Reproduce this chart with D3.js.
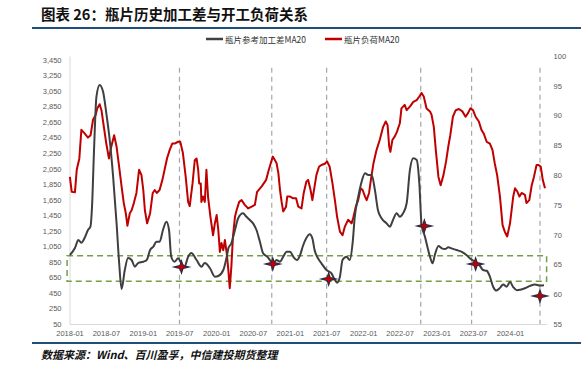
<!DOCTYPE html>
<html><head><meta charset="utf-8">
<script src="https://cdn.jsdelivr.net/npm/d3@7"></script>
<style>
body{margin:0;background:#fff;}
svg{display:block;}
</style></head>
<body>
<svg id="c" width="587" height="369"></svg>
<script>
// ---------- data ----------
const titleText = "图表 26：瓶片历史加工差与开工负荷关系";
const sourceText = "数据来源：Wind、百川盈孚，中信建投期货整理";
const seriesNames = ["瓶片参考加工差MA20", "瓶片负荷MA20"];

const marginDates = ["2018-01-03","2018-01-28","2018-02-14","2018-03-01","2018-03-17","2018-04-03","2018-04-15","2018-04-23","2018-05-03","2018-05-15","2018-05-31","2018-06-17","2018-07-03","2018-07-20","2018-08-06","2018-08-23","2018-09-05","2018-09-17","2018-10-03","2018-10-19","2018-11-06","2018-11-22","2018-12-08","2019-01-03","2019-01-20","2019-02-06","2019-02-22","2019-03-09","2019-03-25","2019-04-11","2019-04-28","2019-05-11","2019-05-22","2019-06-08","2019-06-25","2019-07-11","2019-07-27","2019-08-14","2019-08-30","2019-09-25","2019-10-19","2019-11-05","2019-11-30","2019-12-25","2020-01-11","2020-02-05","2020-02-22","2020-03-01","2020-03-16","2020-04-03","2020-04-19","2020-05-13","2020-05-30","2020-06-16","2020-07-02","2020-07-19","2020-08-05","2020-08-21","2020-09-11","2020-10-10","2020-10-27","2020-11-13","2020-11-29","2020-12-16","2021-01-02","2021-01-18","2021-02-05","2021-02-21","2021-03-07","2021-03-24","2021-04-10","2021-04-23","2021-05-04","2021-05-21","2021-06-07","2021-07-02","2021-07-27","2021-08-13","2021-08-24","2021-09-07","2021-09-20","2021-10-10","2021-10-26","2021-11-09","2021-11-20","2021-12-07","2021-12-24","2022-01-10","2022-01-26","2022-02-12","2022-02-28","2022-03-15","2022-04-02","2022-04-27","2022-05-13","2022-05-29","2022-06-16","2022-07-02","2022-07-18","2022-08-05","2022-08-21","2022-09-07","2022-09-24","2022-10-07","2022-10-18","2022-11-04","2022-11-20","2022-11-29","2022-12-12","2022-12-23","2023-01-10","2023-01-27","2023-02-12","2023-02-28","2023-03-15","2023-04-10","2023-05-04","2023-05-29","2023-06-15","2023-07-10","2023-08-04","2023-08-20","2023-09-07","2023-09-23","2023-10-09","2023-10-26","2023-11-12","2023-11-28","2023-12-15","2024-01-01","2024-01-17","2024-02-04","2024-02-20","2024-03-15","2024-04-09","2024-05-04","2024-05-29","2024-06-18"];
const marginValues = [938,1028,1131,1097,1157,1260,1303,1560,2290,2976,3127,3040,2766,2419,1946,1350,835,500,745,900,874,788,835,852,874,1003,1045,1109,1109,1260,1367,1260,916,852,896,835,788,916,964,874,788,835,771,659,668,745,916,1024,1089,1260,1411,1475,1431,1389,1346,1260,1109,960,916,831,874,852,916,981,981,916,874,938,1054,1157,1205,1153,1003,896,831,745,703,616,582,659,874,916,874,1089,1431,1689,1882,1990,1968,1968,1775,1518,1411,1346,1303,1389,1475,1431,1475,1604,2032,2183,2161,1861,1330,1174,1003,916,831,938,1054,1024,1015,1037,1024,1003,981,938,896,852,800,745,735,660,530,480,515,560,530,590,525,485,490,510,540,560,545,550];

const loadDates = ["2018-01-03","2018-01-12","2018-01-28","2018-02-06","2018-02-19","2018-03-01","2018-03-17","2018-04-03","2018-04-16","2018-04-28","2018-05-11","2018-05-19","2018-05-31","2018-06-09","2018-06-17","2018-07-03","2018-07-16","2018-07-28","2018-08-11","2018-08-23","2018-09-05","2018-09-17","2018-09-28","2018-10-08","2018-10-16","2018-10-28","2018-11-06","2018-11-17","2018-11-30","2018-12-13","2018-12-25","2019-01-03","2019-01-11","2019-01-22","2019-02-06","2019-02-19","2019-03-01","2019-03-11","2019-03-25","2019-04-08","2019-04-19","2019-05-01","2019-05-14","2019-05-27","2019-06-08","2019-06-25","2019-07-06","2019-07-19","2019-08-02","2019-08-14","2019-08-22","2019-09-05","2019-09-16","2019-09-25","2019-10-03","2019-10-08","2019-10-16","2019-10-19","2019-10-27","2019-11-05","2019-11-13","2019-11-21","2019-12-03","2019-12-16","2019-12-25","2020-01-03","2020-01-11","2020-01-19","2020-01-27","2020-02-05","2020-02-13","2020-02-22","2020-03-01","2020-03-08","2020-03-16","2020-03-24","2020-04-03","2020-04-11","2020-04-24","2020-05-06","2020-05-22","2020-06-08","2020-06-25","2020-07-11","2020-07-22","2020-08-14","2020-09-05","2020-09-16","2020-09-28","2020-10-08","2020-10-19","2020-10-27","2020-11-05","2020-11-13","2020-11-21","2020-11-29","2020-12-13","2020-12-19","2021-01-02","2021-01-18","2021-02-01","2021-02-12","2021-02-28","2021-03-11","2021-03-24","2021-04-02","2021-04-14","2021-04-23","2021-05-04","2021-05-13","2021-05-26","2021-06-07","2021-06-24","2021-07-05","2021-07-18","2021-08-01","2021-08-13","2021-08-24","2021-09-07","2021-09-20","2021-10-01","2021-10-18","2021-11-04","2021-11-12","2021-11-25","2021-12-07","2021-12-19","2021-12-29","2022-01-10","2022-01-18","2022-01-30","2022-02-08","2022-02-21","2022-03-08","2022-03-24","2022-04-10","2022-04-23","2022-05-02","2022-05-10","2022-05-16","2022-05-26","2022-06-07","2022-06-18","2022-07-02","2022-07-10","2022-07-26","2022-08-05","2022-08-21","2022-09-07","2022-09-24","2022-10-07","2022-10-18","2022-10-29","2022-11-12","2022-11-29","2022-12-07","2022-12-18","2022-12-28","2023-01-10","2023-01-21","2023-02-04","2023-02-17","2023-02-28","2023-03-10","2023-03-23","2023-04-06","2023-04-22","2023-05-09","2023-05-25","2023-06-06","2023-06-18","2023-07-01","2023-07-14","2023-07-30","2023-08-12","2023-08-23","2023-09-07","2023-09-23","2023-10-06","2023-10-17","2023-10-29","2023-11-12","2023-11-25","2023-12-06","2023-12-18","2024-01-01","2024-01-17","2024-01-26","2024-02-07","2024-02-17","2024-02-28","2024-03-15","2024-03-23","2024-04-06","2024-04-18","2024-04-29","2024-05-12","2024-05-22","2024-06-02","2024-06-12","2024-06-23"];
const loadValues = [79.7,77.2,77.1,80.9,82.8,87.6,87.0,86.3,86.7,89.3,90.1,91.2,91.9,90.9,89.0,85.3,82.8,84.8,86.7,84.8,81.4,78.1,75.3,73.6,71.5,73.6,74.1,75.3,77.0,80.9,80.0,77.5,74.1,71.9,73.6,77.0,77.5,77.0,77.5,79.2,80.9,82.8,84.2,85.3,85.3,85.6,85.6,83.7,79.7,75.5,74.8,78.6,82.5,82.8,80.9,78.6,78.6,75.5,76.4,75.5,80.9,76.4,73.0,69.9,71.9,73.3,70.8,67.1,68.6,67.4,69.1,66.9,64.1,61.0,64.6,69.7,73.0,74.1,75.5,75.8,75.0,74.4,74.7,75.0,77.2,78.1,79.2,80.6,82.0,83.1,82.5,82.0,80.3,77.5,75.5,73.9,74.7,76.4,76.4,76.1,76.1,74.7,74.4,77.0,78.9,79.2,77.5,75.8,78.1,80.0,81.4,81.7,81.9,82.3,81.4,78.6,75.8,73.0,70.5,69.9,71.3,72.5,71.9,72.8,74.7,75.8,77.8,77.5,76.4,75.8,77.0,79.2,82.0,84.2,85.9,88.1,89.0,88.4,84.8,83.9,85.9,86.5,87.3,88.7,91.2,91.8,90.9,91.5,92.3,92.6,93.2,93.8,93.2,91.2,90.7,90.1,88.1,84.2,79.7,78.3,80.0,82.3,84.8,86.7,89.8,90.9,91.1,90.7,89.8,90.4,91.2,90.9,89.8,89.0,87.6,87.0,85.6,85.3,84.2,82.0,80.0,76.4,71.6,70.5,69.7,71.9,76.4,77.8,77.2,76.4,77.0,76.7,75.3,75.8,78.3,79.7,81.7,81.7,81.4,79.2,77.8];

// annotation marks (dates of the dashed verticals and the star markers)
const eventLineDates = ["2019-07-02","2020-10-03","2021-07-03","2022-10-14","2023-06-24","2024-05-29"];
const starDates = ["2019-07-12","2020-10-08","2021-07-13","2022-11-01","2023-07-14","2024-05-29"];
const starValues = [784,822,629,1312,822,410];
const bandRange = [600, 930];               // green dashed box on left axis
const bandDates = ["2017-12-20","2024-07-01"];

const leftTicks = d3.range(50, 3451, 200);
const rightTicks = d3.range(55, 101, 5);
const xTickDates = ["2018-01","2018-07","2019-01","2019-07","2020-01","2020-07","2021-01","2021-07","2022-01","2022-07","2023-01","2023-07","2024-01"];

// ---------- drawing ----------
const svg = d3.select("#c");
const parse = d3.timeParse("%Y-%m-%d");
const parseM = d3.timeParse("%Y-%m");
const plot = {l: 69.5, r: 546.6, t: 56, b: 324};

const x = d3.scaleTime().domain([parse("2018-01-01"), parse("2024-07-01")]).range([plot.l, plot.r]);
const yL = d3.scaleLinear().domain([50, 3500]).range([plot.b, plot.t]);
const yR = d3.scaleLinear().domain([55, 100]).range([plot.b, plot.t]);

const tickFont = "Liberation Sans, Arial, sans-serif";
const cjk = "'Noto Sans CJK SC', sans-serif";

// title
svg.append("text").attr("x", 41).attr("y", 20).text(titleText)
  .attr("font-family", cjk).attr("font-weight", 700).attr("font-size", 14.5).attr("fill", "#111");
svg.append("line").attr("x1", 32).attr("x2", 581).attr("y1", 28).attr("y2", 28)
  .attr("stroke", "#1f4e79").attr("stroke-width", 2);
// footer
svg.append("line").attr("x1", 32).attr("x2", 581).attr("y1", 343).attr("y2", 343)
  .attr("stroke", "#1f4e79").attr("stroke-width", 2);
svg.append("text").attr("x", 41).attr("y", 359).text(sourceText)
  .attr("font-family", cjk).attr("font-weight", 700).attr("font-style", "italic")
  .attr("font-size", 11).attr("fill", "#111");

// legend
const leg = [{x: 206, c: "#404040", t: seriesNames[0]}, {x: 325, c: "#c00000", t: seriesNames[1]}];
leg.forEach(d => {
  svg.append("line").attr("x1", d.x).attr("x2", d.x + 17).attr("y1", 39).attr("y2", 39)
    .attr("stroke", d.c).attr("stroke-width", 2.5);
  svg.append("text").attr("x", d.x + 19).attr("y", 42.5).text(d.t)
    .attr("font-family", cjk).attr("font-size", 8.5).attr("fill", "#333");
});

// axes
const gL = svg.append("g").attr("transform", `translate(${plot.l},0)`)
  .call(d3.axisLeft(yL).tickValues(leftTicks).tickFormat(d3.format(",")).tickSize(0).tickPadding(8));
gL.select(".domain").attr("stroke", "#d9d9d9");
gL.selectAll("text").attr("font-family", tickFont).attr("font-size", 7.5).attr("fill", "#595959");

const gR = svg.append("g").attr("transform", `translate(${plot.r},0)`)
  .call(d3.axisRight(yR).tickValues(rightTicks).tickSize(0).tickPadding(7));
gR.select(".domain").remove();
gR.selectAll("text").attr("font-family", tickFont).attr("font-size", 7.5).attr("fill", "#595959");

const gX = svg.append("g").attr("transform", `translate(0,${plot.b})`)
  .call(d3.axisBottom(x).tickValues(xTickDates.map(parseM)).tickFormat(d3.timeFormat("%Y-%m")).tickSize(0).tickPadding(7));
gX.select(".domain").attr("stroke", "#d9d9d9");
gX.selectAll("text").attr("font-family", tickFont).attr("font-size", 7.5).attr("fill", "#595959");

// event lines
svg.append("g").selectAll("line").data(eventLineDates).join("line")
  .attr("x1", d => x(parse(d))).attr("x2", d => x(parse(d)))
  .attr("y1", yL(3350)).attr("y2", plot.b)
  .attr("stroke", "#a6a6a6").attr("stroke-width", 1.2).attr("stroke-dasharray", "5,4");

// green band
svg.append("rect")
  .attr("x", x(parse(bandDates[0]))).attr("y", yL(bandRange[1]))
  .attr("width", x(parse(bandDates[1])) - x(parse(bandDates[0])))
  .attr("height", yL(bandRange[0]) - yL(bandRange[1]))
  .attr("fill", "none").attr("stroke", "#70a047").attr("stroke-width", 1.5).attr("stroke-dasharray", "6,4");

// lines
const redLine = d3.line().x((d, i) => x(parse(loadDates[i]))).y(d => yR(d)).curve(d3.curveLinear);
svg.append("path").attr("d", redLine(loadValues)).attr("fill", "none")
  .attr("stroke", "#c00000").attr("stroke-width", 2).attr("stroke-linejoin", "round");
const blkLine = d3.line().x((d, i) => x(parse(marginDates[i]))).y(d => yL(d)).curve(d3.curveMonotoneX);
svg.append("path").attr("d", blkLine(marginValues)).attr("fill", "none")
  .attr("stroke", "#3f3f3f").attr("stroke-width", 2).attr("stroke-linejoin", "round");

// stars
function star(w, h, k) {
  return `M${-w},0 L${-k},${-k} L0,${-h} L${k},${-k} L${w},0 L${k},${k} L0,${h} L${-k},${k} Z`;
}
const sg = svg.append("g").selectAll("g").data(starDates).join("g")
  .attr("transform", (d, i) => `translate(${x(parse(d))},${yL(starValues[i])})`);
sg.append("path").attr("d", star(10, 8, 2)).attr("fill", "#1f2d4d");
sg.append("path").attr("d", star(6, 5, 1.3)).attr("fill", "#c00000");
</script>
</body></html>
